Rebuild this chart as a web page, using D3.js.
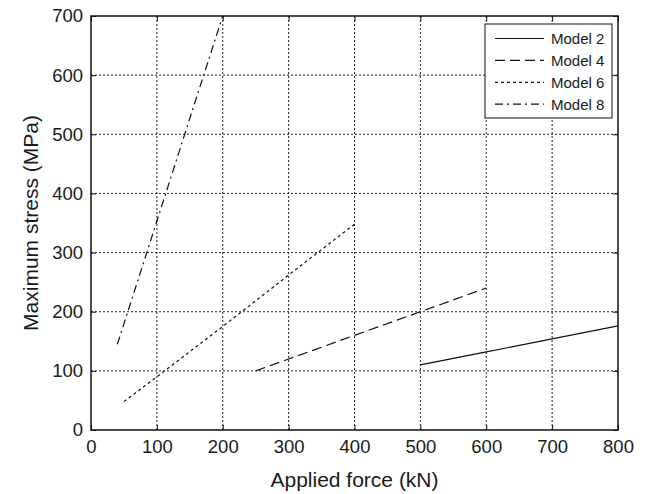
<!DOCTYPE html>
<html><head><meta charset="utf-8">
<script src="https://cdn.jsdelivr.net/npm/d3@7"></script>
<style>body{margin:0;background:#fff}svg{display:block}text{font-family:"Liberation Sans",Arial,sans-serif;fill:#1a1a1a}</style>
</head><body><svg id="c" width="648" height="494"></svg>
<script>
const xTicks = [0,100,200,300,400,500,600,700,800];
const yTicks = [0,100,200,300,400,500,600,700];
const seriesNames = ["Model 2","Model 4","Model 6","Model 8"];
const model2X = [500,600,700,800];
const model2Y = [110,132,154,176];
const model4X = [250,300,400,500,600];
const model4Y = [100,120,160,200,240];
const model6X = [50,100,200,300,400];
const model6Y = [48,90,175,262,348];
const model8X = [40,100,150,200];
const model8Y = [145,353,527,700];
const dashes = ["none","10,5","3,3","8,4,2,4"];

const svg = d3.select("#c");
const L=91,R=618,T=16,B=430;
const x = d3.scaleLinear().domain([0,800]).range([L,R]);
const y = d3.scaleLinear().domain([0,700]).range([B,T]);

// grid
const g = svg.append("g");
g.selectAll(".gx").data(xTicks.slice(1,-1)).enter().append("line")
 .attr("x1",d=>x(d)).attr("x2",d=>x(d)).attr("y1",T).attr("y2",B)
 .attr("stroke","#222").attr("stroke-width",1).attr("stroke-dasharray","2,2");
g.selectAll(".gy").data(yTicks.slice(1,-1)).enter().append("line")
 .attr("y1",d=>y(d)).attr("y2",d=>y(d)).attr("x1",L).attr("x2",R)
 .attr("stroke","#222").attr("stroke-width",1).attr("stroke-dasharray","2,2");

// axes
const fmt = d3.format("d");
const ax = svg.append("g").attr("transform",`translate(0,${B})`)
 .call(d3.axisBottom(x).tickValues(xTicks).tickFormat(fmt).tickSizeInner(-5).tickSizeOuter(0).tickPadding(9));
const ay = svg.append("g").attr("transform",`translate(${L},0)`)
 .call(d3.axisLeft(y).tickValues(yTicks).tickFormat(fmt).tickSizeInner(-5).tickSizeOuter(0).tickPadding(8));
const axT = svg.append("g").attr("transform",`translate(0,${T})`)
 .call(d3.axisTop(x).tickValues(xTicks).tickFormat("").tickSizeInner(-5).tickSizeOuter(0));
const ayR = svg.append("g").attr("transform",`translate(${R},0)`)
 .call(d3.axisRight(y).tickValues(yTicks).tickFormat("").tickSizeInner(-5).tickSizeOuter(0));
[ax,ay,axT,ayR].forEach(a=>{a.selectAll("path").remove();a.selectAll("line").attr("stroke","#111");
 a.selectAll("text").attr("font-size",18.5).attr("font-family","Liberation Sans, Arial, sans-serif").attr("fill","#1a1a1a");});
ax.selectAll("text").attr("y",23).attr("dy",0);
svg.append("rect").attr("x",L).attr("y",T).attr("width",R-L).attr("height",B-T)
 .attr("fill","none").attr("stroke","#111").attr("stroke-width",1.5);

// series
const data = [[model2X,model2Y],[model4X,model4Y],[model6X,model6Y],[model8X,model8Y]];
const line = d3.line().x(d=>x(d[0])).y(d=>y(d[1]));
data.forEach((s,i)=>{
  const pts = s[0].map((v,j)=>[v,s[1][j]]);
  svg.append("path").attr("d",line(pts)).attr("fill","none").attr("stroke","#111")
   .attr("stroke-width",1.2).attr("stroke-dasharray",dashes[i]);
});

// legend
const lg = svg.append("g");
lg.append("rect").attr("x",485).attr("y",24).attr("width",127).attr("height",94)
 .attr("fill","#fff").attr("stroke","#111").attr("stroke-width",1);
seriesNames.forEach((n,i)=>{
  const yy = 38.5 + i*21.9;
  lg.append("line").attr("x1",495).attr("x2",544).attr("y1",yy).attr("y2",yy)
   .attr("stroke","#111").attr("stroke-width",1.2).attr("stroke-dasharray",dashes[i]);
  lg.append("text").attr("x",551).attr("y",yy).attr("dy","0.36em").attr("font-size",15).text(n);
});

// titles
svg.append("text").attr("x",(L+R)/2).attr("y",487).attr("text-anchor","middle").attr("font-size",21).text("Applied force (kN)");
svg.append("text").attr("transform",`translate(37.5,${(T+B)/2}) rotate(-90)`).attr("text-anchor","middle").attr("font-size",21).text("Maximum stress (MPa)");
</script></body></html>
